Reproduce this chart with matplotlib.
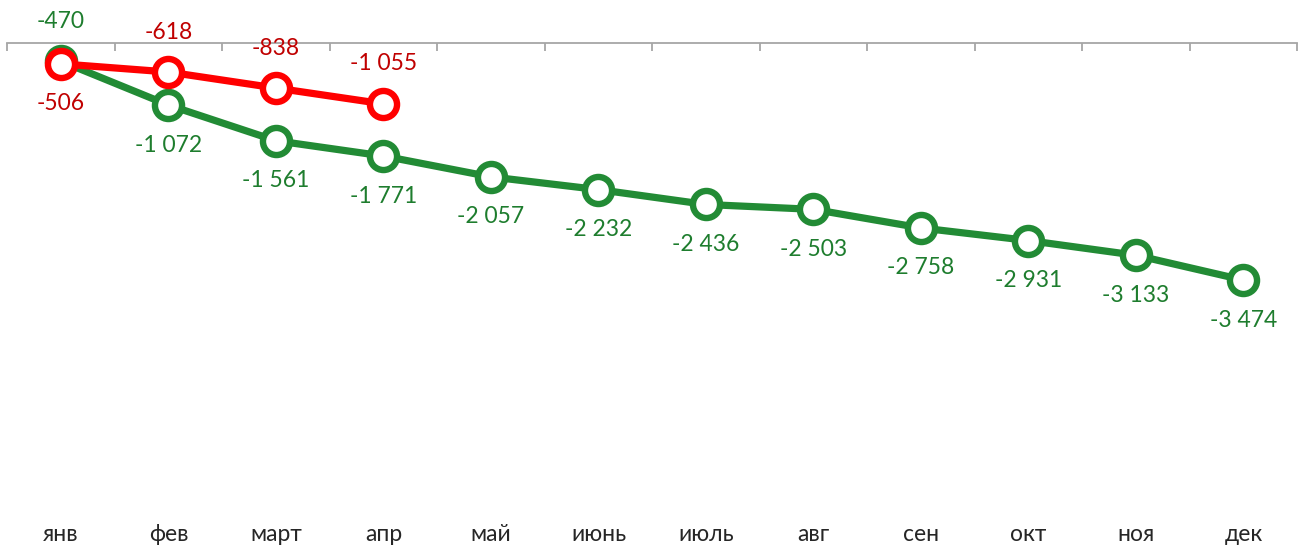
import matplotlib
matplotlib.use("Agg")
import matplotlib.pyplot as plt

months = ["янв", "фев", "март", "апр", "май", "июнь", "июль", "авг", "сен", "окт", "ноя", "дек"]
green_vals = [-470, -1072, -1561, -1771, -2057, -2232, -2436, -2503, -2758, -2931, -3133, -3474]
red_vals = [-506, -618, -838, -1055]

GREEN = "#228B35"
GREEN_TXT = "#1E7D2E"
RED = "#FF0000"
RED_TXT = "#C00000"

plt.rcParams['font.family'] = ['Lato', 'DejaVu Sans']

fig = plt.figure(figsize=(13.12, 5.5), dpi=100)
ax = fig.add_axes([0, 0, 1, 1])
ax.set_axis_off()

pxu = 0.07286  # pixels per unit
zero_px = 27
ax.set_ylim(-(550 - zero_px) / pxu, zero_px / pxu)
ax.set_xlim(-61 / 107.5, (1312 - 61) / 107.5)

n = len(months)
axis_y = -220
ax.plot([-0.5, n - 0.5], [axis_y, axis_y], color="#A6A6A6", lw=1.3, zorder=1)
ax.vlines([i - 0.5 for i in range(n + 1)], axis_y - 110, axis_y, color="#A6A6A6", lw=1.3, zorder=1)

xs_g = list(range(len(green_vals)))
xs_r = list(range(len(red_vals)))
ax.plot(xs_g, green_vals, color=GREEN, lw=5.2, marker="o", ms=19.5, mew=4.6,
        mfc="white", mec=GREEN, zorder=3, solid_capstyle="round")
ax.plot(xs_r, red_vals, color=RED, lw=5.2, marker="o", ms=19.5, mew=4.6,
        mfc="white", mec=RED, zorder=4, solid_capstyle="round")

def fmt(v):
    s = f"{abs(v):,}".replace(",", " ")
    return ("-" if v < 0 else "") + s

off = 40 / pxu
for i, v in enumerate(green_vals):
    dy = off if i == 0 else -off
    ax.text(i, v + dy, fmt(v), color=GREEN_TXT, fontsize=16.5, ha="center", va="center", zorder=5)
for i, v in enumerate(red_vals):
    dy = -off if i == 0 else off
    ax.text(i, v + dy, fmt(v), color=RED_TXT, fontsize=16.5, ha="center", va="center", zorder=5)

label_y = -(535 - zero_px) / pxu
for i, m in enumerate(months):
    ax.text(i, label_y, m, color="#262626", fontsize=16.5, ha="center", va="center")

fig.savefig("out.png", dpi=100)
